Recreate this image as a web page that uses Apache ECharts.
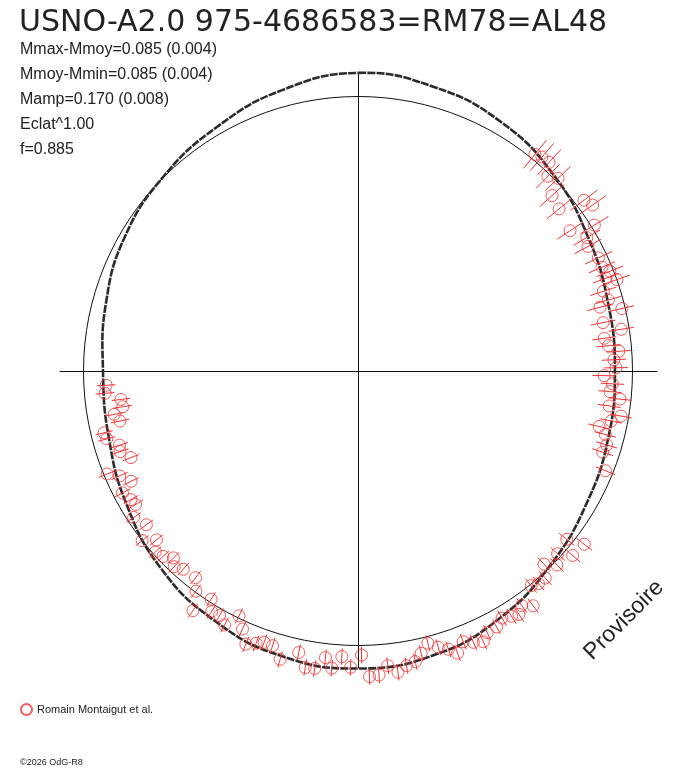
<!DOCTYPE html>
<html>
<head>
<meta charset="utf-8">
<title>USNO-A2.0 975-4686583</title>
<script src="https://cdn.jsdelivr.net/npm/echarts@6/dist/echarts.min.js"></script>
<style>
html, body { margin: 0; padding: 0; background: #fff; }
#main { width: 688px; height: 768px; }
</style>
</head>
<body>
<div id="main"></div>
<script>
// titre et parametres de la courbe
var starName = 'USNO-A2.0 975-4686583=RM78=AL48';
var statLines = [
    'Mmax-Mmoy=0.085 (0.004)',
    'Mmoy-Mmin=0.085 (0.004)',
    'Mamp=0.170 (0.008)',
    'Eclat^1.00',
    'f=0.885'
];
var observer = 'Romain Montaigut et al.';

// mesures : [phase, rayon, erreur] (rayon 1 = cercle moyen)
var obs = [
    [0.109, 1.019, 0.066], [0.113, 1.028, 0.066], [0.118, 1.031, 0.064], [0.123, 0.991, 0.062],
    [0.128, 1.012, 0.064], [0.133, 0.953, 0.060], [0.142, 0.941, 0.058], [0.147, 1.032, 0.062],
    [0.152, 1.047, 0.060], [0.157, 0.926, 0.056], [0.162, 1.012, 0.060], [0.166, 0.965, 0.056],
    [0.171, 0.953, 0.055], [0.180, 0.968, 0.054], [0.186, 0.966, 0.052], [0.190, 0.987, 0.052],
    [0.196, 1.000, 0.050], [0.193, 0.965, 0.050], [0.200, 0.940, 0.050], [0.206, 0.948, 0.048],
    [0.209, 0.912, 0.048], [0.213, 0.988, 0.046],
    [0.219, 0.910, 0.046], [0.225, 0.971, 0.046], [0.229, 0.905, 0.044], [0.234, 0.917, 0.044],
    [0.238, 0.953, 0.044], [0.243, 0.933, 0.044], [0.248, 0.940, 0.044], [0.253, 0.897, 0.042],
    [0.258, 0.928, 0.042], [0.263, 0.921, 0.042], [0.267, 0.960, 0.042], [0.272, 0.924, 0.042],
    [0.277, 0.972, 0.040], [0.281, 0.940, 0.040], [0.286, 0.901, 0.040], [0.290, 0.930, 0.040],
    [0.296, 0.945, 0.040], [0.301, 0.939, 0.040], [0.311, 0.972, 0.038],
    [0.354, 1.038, 0.036], [0.358, 0.977, 0.036], [0.363, 1.031, 0.036], [0.368, 0.986, 0.034],
    [0.373, 1.012, 0.034], [0.378, 0.977, 0.034], [0.383, 1.017, 0.034], [0.388, 1.016, 0.032],
    [0.392, 1.005, 0.032], [0.398, 1.067, 0.032], [0.403, 1.042, 0.032], [0.407, 1.063, 0.032],
    [0.411, 1.054, 0.032], [0.416, 1.042, 0.032], [0.421, 1.060, 0.030], [0.427, 1.063, 0.030],
    [0.431, 1.087, 0.030], [0.436, 1.074, 0.030], [0.441, 1.058, 0.030], [0.446, 1.090, 0.030],
    [0.450, 1.066, 0.030], [0.455, 1.048, 0.030], [0.460, 1.024, 0.030], [0.465, 1.054, 0.030],
    [0.469, 1.079, 0.030], [0.474, 1.088, 0.030], [0.479, 1.107, 0.030], [0.484, 1.079, 0.030],
    [0.489, 1.110, 0.030], [0.494, 1.114, 0.030], [0.498, 1.035, 0.030],
    [0.504, 1.080, 0.030], [0.509, 1.042, 0.030], [0.514, 1.087, 0.030], [0.518, 1.051, 0.030],
    [0.523, 1.095, 0.030], [0.528, 1.097, 0.030], [0.533, 1.048, 0.030], [0.542, 1.088, 0.030],
    [0.548, 1.048, 0.030], [0.553, 1.046, 0.030], [0.557, 1.059, 0.030], [0.562, 1.076, 0.030],
    [0.567, 1.030, 0.030], [0.572, 0.992, 0.030], [0.577, 1.045, 0.030], [0.582, 1.024, 0.030],
    [0.587, 1.026, 0.030], [0.591, 0.989, 0.030], [0.596, 1.060, 0.030], [0.601, 0.996, 0.030],
    [0.606, 0.958, 0.030], [0.615, 0.963, 0.030], [0.620, 0.978, 0.030], [0.624, 0.957, 0.030],
    [0.629, 0.980, 0.030], [0.634, 0.990, 0.030], [0.639, 0.958, 0.030], [0.644, 1.000, 0.030],
    [0.650, 0.953, 0.030], [0.658, 0.976, 0.032], [0.664, 0.945, 0.032], [0.668, 0.951, 0.032],
    [0.674, 0.966, 0.032], [0.678, 0.919, 0.032], [0.684, 0.949, 0.032], [0.688, 0.988, 0.032],
    [0.692, 0.885, 0.032], [0.698, 0.915, 0.032], [0.702, 0.910, 0.032], [0.708, 0.948, 0.032],
    [0.712, 0.952, 0.032], [0.717, 0.886, 0.034], [0.722, 0.902, 0.034], [0.726, 0.867, 0.034],
    [0.731, 0.870, 0.034], [0.736, 0.925, 0.034], [0.741, 0.919, 0.034]
];

// courbe ajustee (lue tous les 15 degres)
var modelPhase = [0, 0.042, 0.083, 0.125, 0.167, 0.208, 0.25, 0.292, 0.333, 0.375, 0.417, 0.458,
    0.5, 0.542, 0.583, 0.625, 0.667, 0.708, 0.75, 0.792, 0.833, 0.875, 0.917, 0.958];
var modelRadius = [1.086, 1.071, 1.046, 1.009, 0.969, 0.944, 0.936, 0.944, 0.962, 0.995, 1.038, 1.071,
    1.084, 1.075, 1.049, 1.016, 0.973, 0.940, 0.929, 0.951, 0.980, 1.002, 1.027, 1.060];
var meanRadius = 1;

var red = '#f03333';
var myChart = echarts.init(document.getElementById('main'));

var option = {
    animation: false,
    backgroundColor: '#fff',
    graphic: [
        {type: 'text', x: 19, y: 23, style: {text: starName, fontSize: 30, fontFamily: 'DejaVu Sans', fill: '#222', verticalAlign: 'middle'}},
        {type: 'text', x: 20, y: 50, style: {text: statLines[0], fontSize: 16, fontFamily: 'Liberation Sans', fill: '#222', verticalAlign: 'middle'}},
        {type: 'text', x: 20, y: 75, style: {text: statLines[1], fontSize: 16, fontFamily: 'Liberation Sans', fill: '#222', verticalAlign: 'middle'}},
        {type: 'text', x: 20, y: 100, style: {text: statLines[2], fontSize: 16, fontFamily: 'Liberation Sans', fill: '#222', verticalAlign: 'middle'}},
        {type: 'text', x: 20, y: 125, style: {text: statLines[3], fontSize: 16, fontFamily: 'Liberation Sans', fill: '#222', verticalAlign: 'middle'}},
        {type: 'text', x: 20, y: 150, style: {text: statLines[4], fontSize: 16, fontFamily: 'Liberation Sans', fill: '#222', verticalAlign: 'middle'}},
        {type: 'text', x: 624, y: 620, rotation: Math.PI / 4, style: {text: 'Provisoire', fontSize: 23, fontFamily: 'Liberation Sans', fill: '#222', align: 'center', verticalAlign: 'middle'}},
        {type: 'text', x: 20, y: 763, style: {text: '\u00a92026 OdG-R8', fontSize: 9, fontFamily: 'Liberation Sans', fill: '#222', verticalAlign: 'middle'}}
    ],
    legend: {
        data: [observer],
        left: 15,
        top: 698,
        icon: 'circle',
        itemWidth: 11,
        itemHeight: 11,
        itemGap: 5,
        textStyle: {fontSize: 11, fontFamily: 'Liberation Sans', color: '#222'}
    },
    // axes en croix
    grid: {left: 60, top: 74, width: 597, height: 594},
    xAxis: {
        type: 'value', min: -1, max: 1,
        axisLine: {onZero: true, lineStyle: {color: '#111', width: 1}},
        axisTick: {show: false}, axisLabel: {show: false}, splitLine: {show: false}
    },
    yAxis: {
        type: 'value', min: -1, max: 1,
        axisLine: {onZero: true, lineStyle: {color: '#111', width: 1}},
        axisTick: {show: false}, axisLabel: {show: false}, splitLine: {show: false}
    },
    polar: {center: [358, 371], radius: 1.15 * 274.5},
    radiusAxis: {min: 0, max: 1.15, show: false},
    angleAxis: {type: 'value', min: 0, max: 1, startAngle: 90, clockwise: true, show: false},
    series: [
        {
            name: 'axes', type: 'scatter', xAxisIndex: 0, yAxisIndex: 0, data: [], silent: true
        },
        {
            name: 'moyenne', type: 'custom', coordinateSystem: 'polar',
            data: [[meanRadius, 0]],
            renderItem: function (params, api) {
                var c = api.coord([0, 0]);
                var p = api.coord([api.value(0), 0]);
                return {
                    type: 'circle',
                    shape: {cx: c[0], cy: c[1], r: Math.sqrt((p[0] - c[0]) * (p[0] - c[0]) + (p[1] - c[1]) * (p[1] - c[1]))},
                    style: {fill: 'none', stroke: '#111', lineWidth: 1}
                };
            },
            z: 1
        },
        {
            // courbe fermee lissee passant par les points lus
            name: 'modele', type: 'custom', coordinateSystem: 'polar',
            data: [[modelRadius[0], modelPhase[0]]],
            renderItem: function (params, api) {
                var pts = modelPhase.map(function (ph, i) { return api.coord([modelRadius[i], ph]); });
                return {
                    type: 'polygon',
                    shape: {points: pts, smooth: 0.45},
                    style: {fill: 'none', stroke: '#2b2b2b', lineWidth: 2.6, lineDash: [8, 1.2]}
                };
            },
            z: 2
        },
        {
            name: 'erreurs', type: 'custom', coordinateSystem: 'polar',
            dimensions: ['r', 'phase', 'err'],
            encode: {radius: 0, angle: 1},
            data: obs.map(function (o) { return [o[1], o[0], o[2]]; }),
            renderItem: function (params, api) {
                var r = api.value(0), ph = api.value(1), e = api.value(2);
                var a = api.coord([r - e, ph]);
                var b = api.coord([r + e, ph]);
                return {
                    type: 'line',
                    shape: {x1: a[0], y1: a[1], x2: b[0], y2: b[1]},
                    style: {stroke: red, lineWidth: 1}
                };
            },
            z: 3
        },
        {
            name: observer, type: 'scatter', coordinateSystem: 'polar',
            data: obs.map(function (o) { return [o[1], o[0]]; }),
            symbol: 'circle',
            symbolSize: 12,
            itemStyle: {color: 'rgba(255,255,255,0)', borderColor: red, borderWidth: 1},
            z: 4
        }
    ]
};

myChart.setOption(option);
</script>
</body>
</html>
